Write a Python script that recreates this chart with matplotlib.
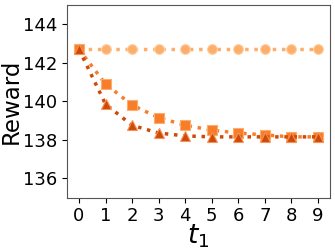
import matplotlib
matplotlib.use("Agg")
import matplotlib.pyplot as plt

t1 = list(range(10))
circles = [142.7] * 10
squares = [142.7, 140.9, 139.8, 139.15, 138.75, 138.5, 138.35, 138.25, 138.15, 138.15]
triangles = [142.7, 139.85, 138.75, 138.35, 138.2, 138.15, 138.15, 138.15, 138.15, 138.15]
yticks = [136, 138, 140, 142, 144]

fig = plt.figure(figsize=(3.35, 2.5), dpi=100)
ax = fig.add_axes([0.2, 0.21, 0.785, 0.77])

ax.plot(t1, circles, linestyle=':', lw=2.5, color='#fdae6b', marker='o', ms=7,
        mec='#fdd0a2', mew=0.8)
ax.plot(t1, squares, linestyle=':', lw=2.5, color='#f87d2a', marker='s', ms=7,
        mec='#fdae6b', mew=0.8)
ax.plot(t1, triangles, linestyle=':', lw=2.5, color='#cf4a07', marker='^', ms=7,
        mec='#f4925a', mew=0.8)

ax.set_ylim(135, 145)
ax.set_xlim(-0.45, 9.45)
ax.set_yticks(yticks)
ax.set_xticks(t1)
ax.tick_params(labelsize=13)
ax.set_ylabel('Reward', fontsize=16.5, labelpad=0)
ax.set_xlabel('$t_1$', fontsize=19, labelpad=-2)
for s in ax.spines.values():
    s.set_color('#555555')

fig.savefig('out.png', dpi=100)
